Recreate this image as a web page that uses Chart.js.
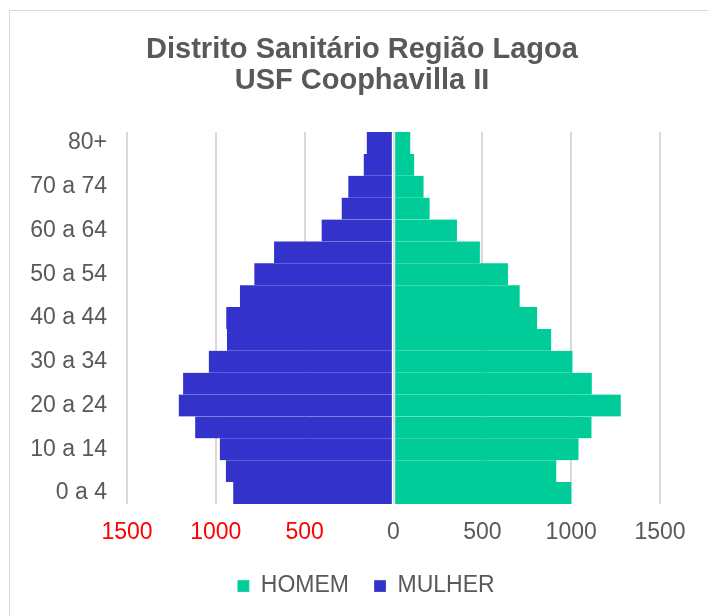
<!DOCTYPE html>
<html>
<head>
<meta charset="utf-8">
<script src="https://cdn.jsdelivr.net/npm/chart.js@4/dist/chart.umd.min.js"></script>
<style>
  html, body { margin: 0; padding: 0; background: #fff; }
  canvas { display: block; }
</style>
</head>
<body>
<canvas id="pyramid" width="708" height="616"></canvas>
<script>
// ====== Dados (de baixo para cima)
const ageGroups = [
  "0 a 4", "5 a 9", "10 a 14", "15 a 19", "20 a 24", "25 a 29", "30 a 34",
  "35 a 39", "40 a 44", "45 a 49", "50 a 54", "55 a 59", "60 a 64",
  "65 a 69", "70 a 74", "75 a 79", "80+",
];
const homem  = [1005, 920, 1045, 1118, 1283, 1120, 1011, 891, 812, 714, 648, 490, 361, 207, 173, 120, 98];
const mulher = [906, 947, 981, 1120, 1212, 1188, 1043, 941, 945, 868, 787, 676, 408, 295, 258, 171, 154];
const xTicks = [-1500, -1000, -500, 0, 500, 1000, 1500];

const GREY = "#595959";
const FONT = "'Liberation Sans', Arial, sans-serif";

// ====== moldura cinza do gráfico
const framePlugin = {
  id: "frame",
  beforeDraw: (chart) => {
    const { ctx } = chart;
    ctx.save();
    ctx.fillStyle = "#fff";
    ctx.fillRect(0, 0, chart.width, chart.height);
    ctx.strokeStyle = "#D9D9D9";
    ctx.lineWidth = 1;
    ctx.strokeRect(9.5, 10.5, chart.width + 20, chart.height + 20);
    ctx.restore();
  },
};

// ====== desloca título e legenda (no Excel não ficam centrados no canvas)
const shiftBox = (box, dx, dy) => {
  if (!box) return;
  box.left += dx; box.right += dx;
  box.top += dy; box.bottom += dy;
};
const nudgePlugin = {
  id: "nudge",
  afterLayout: (chart) => {
    shiftBox(chart.titleBlock, 17, 0);
    shiftBox(chart.legend, 21, -12);
  },
};

const barBorder = { left: 1, right: 1, top: 0, bottom: 0 };

new Chart(document.getElementById("pyramid"), {
  type: "bar",
  data: {
    labels: ageGroups,
    datasets: [
      {
        label: "HOMEM",
        data: homem,
        backgroundColor: "#00CC99",
        borderColor: "rgba(255,255,255,0.55)",
        borderWidth: barBorder,
        borderSkipped: false,
        barPercentage: 1,
        categoryPercentage: 1,
      },
      {
        label: "MULHER",
        data: mulher.map(v => -v),
        backgroundColor: "#3333CC",
        borderColor: "rgba(255,255,255,0.55)",
        borderWidth: barBorder,
        borderSkipped: false,
        barPercentage: 1,
        categoryPercentage: 1,
      },
    ],
  },
  options: {
    indexAxis: "y",
    responsive: false,
    animation: false,
    layout: { padding: { left: 30, right: 48, top: 10, bottom: -3.6 } },
    plugins: {
      title: {
        display: true,
        text: ["Distrito Sanitário Região Lagoa", "USF Coophavilla II"],
        color: GREY,
        font: { family: FONT, size: 29, weight: "bold", lineHeight: "31px" },
        padding: { top: 24.5, bottom: 35.5 },
      },
      legend: {
        position: "bottom",
        labels: {
          color: GREY,
          font: { family: FONT, size: 23 },
          boxWidth: 12,
          boxHeight: 12,
          padding: 25,
        },
      },
      tooltip: { enabled: false },
    },
    scales: {
      x: {
        stacked: true,
        min: -1500,
        max: 1500,
        afterBuildTicks: (scale) => { scale.ticks = xTicks.map(v => ({ value: v })); },
        ticks: {
          callback: (v) => Math.abs(v),
          color: (c) => (c.tick && c.tick.value < 0 ? "#FF0000" : GREY),
          font: { family: FONT, size: 23 },
          padding: 15,
        },
        grid: { color: "#D9D9D9", lineWidth: 2, drawTicks: false },
        border: { display: false },
      },
      y: {
        stacked: true,
        reverse: true,
        afterFit: (scale) => { scale.width = 97; },
        ticks: {
          autoSkip: false,
          callback: (v, i) => (i % 2 === 0 ? ageGroups[i] : ""),
          color: GREY,
          font: { family: FONT, size: 23 },
          padding: 20,
        },
        grid: { display: false, drawTicks: false },
        border: { display: false },
      },
    },
  },
  plugins: [framePlugin, nudgePlugin],
});
</script>
</body>
</html>
